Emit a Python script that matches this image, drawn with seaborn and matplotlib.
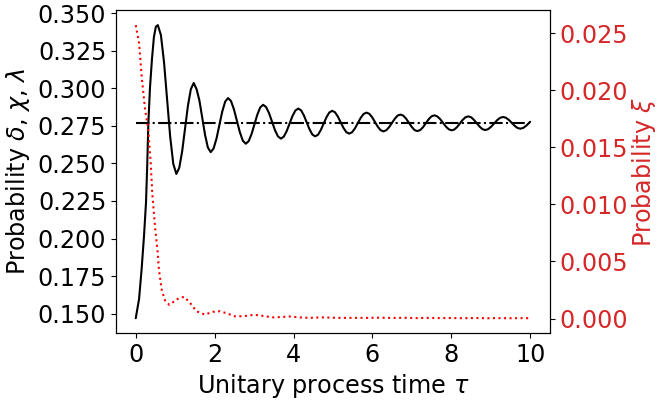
import matplotlib
matplotlib.use("Agg")
import matplotlib.pyplot as plt
from matplotlib.ticker import MultipleLocator, FormatStrFormatter
import seaborn as sns

# probability delta/chi/lambda (black, left axis)
tau_p = [0.00, 0.04, 0.085, 0.15, 0.21, 0.26, 0.29, 0.32, 0.36, 0.41, 0.46, 0.51, 0.56,
         0.638, 0.717, 0.795, 0.873, 0.952, 1.03,
         1.103, 1.177, 1.25, 1.323, 1.397, 1.47,
         1.542, 1.613, 1.685, 1.757, 1.828, 1.90,
         1.973, 2.047, 2.12, 2.193, 2.267, 2.34,
         2.415, 2.49, 2.565, 2.64, 2.715, 2.79,
         2.863, 2.937, 3.01, 3.083, 3.157, 3.23,
         3.305, 3.38, 3.455, 3.53, 3.605, 3.68,
         3.753, 3.827, 3.90, 3.973, 4.047, 4.12,
         4.192, 4.263, 4.335, 4.407, 4.478, 4.55,
         4.622, 4.693, 4.765, 4.837, 4.908, 4.98,
         5.052, 5.123, 5.195, 5.267, 5.338, 5.41,
         5.483, 5.557, 5.63, 5.703, 5.777, 5.85,
         5.922, 5.993, 6.065, 6.137, 6.208, 6.28,
         6.352, 6.423, 6.495, 6.567, 6.638, 6.71,
         6.782, 6.853, 6.925, 6.997, 7.068, 7.14,
         7.212, 7.283, 7.355, 7.427, 7.498, 7.57,
         7.643, 7.717, 7.79, 7.863, 7.937, 8.01,
         8.08, 8.15, 8.22, 8.29, 8.36, 8.43,
         8.502, 8.573, 8.645, 8.717, 8.788, 8.86,
         8.935, 9.01, 9.085, 9.16, 9.235, 9.31,
         9.383, 9.457, 9.53, 9.603, 9.677, 9.75,
         9.823, 9.897, 9.97, 10.0]
p_delta = [0.147, 0.153, 0.160, 0.180, 0.202, 0.224, 0.248, 0.277, 0.300, 0.319, 0.334, 0.341, 0.342,
           0.3354, 0.3173, 0.2925, 0.2678, 0.2496, 0.243,
           0.2471, 0.2581, 0.2733, 0.2884, 0.2994, 0.3035,
           0.2994, 0.2920, 0.2805, 0.2690, 0.2606, 0.2575,
           0.2599, 0.2665, 0.2755, 0.2845, 0.2911, 0.2935,
           0.2915, 0.2859, 0.2783, 0.2707, 0.2651, 0.2631,
           0.2648, 0.2696, 0.2761, 0.2825, 0.2873, 0.2890,
           0.2875, 0.2834, 0.2778, 0.2721, 0.2680, 0.2665,
           0.2678, 0.2715, 0.2765, 0.2815, 0.2852, 0.2865,
           0.2853, 0.2819, 0.2773, 0.2726, 0.2692, 0.2680,
           0.2691, 0.2723, 0.2765, 0.2808, 0.2839, 0.2850,
           0.2840, 0.2812, 0.2774, 0.2736, 0.2708, 0.2698,
           0.2707, 0.2733, 0.2768, 0.2803, 0.2829, 0.2838,
           0.2830, 0.2807, 0.2776, 0.2744, 0.2721, 0.2713,
           0.2721, 0.2741, 0.2769, 0.2797, 0.2818, 0.2825,
           0.2818, 0.2798, 0.2770, 0.2743, 0.2722, 0.2715,
           0.2722, 0.2741, 0.2768, 0.2794, 0.2813, 0.2820,
           0.2813, 0.2795, 0.2770, 0.2745, 0.2727, 0.2720,
           0.2726, 0.2743, 0.2767, 0.2790, 0.2807, 0.2813,
           0.2807, 0.2790, 0.2768, 0.2745, 0.2728, 0.2722,
           0.2728, 0.2744, 0.2766, 0.2787, 0.2803, 0.2809,
           0.2804, 0.2790, 0.2770, 0.2751, 0.2736, 0.2731,
           0.2736, 0.2750, 0.2769, 0.2777]

# stationary level (dash-dot)
tau_eq = [0.0, 10.0]
p_eq = [0.277, 0.277]

# probability xi (red dotted, right axis)
tau_xi = [0.00, 0.085, 0.15, 0.24, 0.31, 0.38, 0.42, 0.49, 0.55, 0.59, 0.66,
          0.74, 0.85, 0.97, 1.10, 1.23, 1.37, 1.54, 1.75, 1.96, 2.13, 2.30,
          2.51, 2.72, 2.98, 3.10, 3.32, 3.50, 3.75, 3.91, 4.17, 4.42, 4.67,
          4.80, 5.10, 5.50, 5.90, 6.20, 6.50, 6.80, 7.10, 7.40, 7.70, 8.00,
          8.30, 8.60, 8.90, 9.20, 9.50, 9.80, 10.0]
p_xi = [0.0257, 0.0241, 0.0212, 0.0182, 0.0168, 0.0136, 0.0109, 0.0080,
        0.0060, 0.0042, 0.0025, 0.0016, 0.0012, 0.0015, 0.0018, 0.0019,
        0.0014, 0.00064, 0.00035, 0.00059, 0.00064, 0.00047, 0.0002, 0.0002,
        0.00032, 0.0003, 0.00018, 0.0001, 0.00015, 0.00018, 0.0001, 0.00006,
        0.0001, 0.0001, 0.00006, 0.00006, 0.00006, 0.00008, 0.00005, 0.00007,
        0.00004, 0.00006, 0.00004, 0.00005, 0.00003, 0.00005, 0.00003,
        0.00004, 0.00003, 0.00004, 0.00003]

sns.set_style("ticks", {"axes.edgecolor": "black", "text.color": "black",
                        "xtick.color": "black", "ytick.color": "black",
                        "axes.labelcolor": "black"})
plt.rcParams["font.family"] = ["DejaVu Sans"]
plt.rcParams["font.size"] = 17.2

fig, ax = plt.subplots(figsize=(6.57, 4.03), dpi=100)
fig.subplots_adjust(left=0.1766, right=0.837, top=0.974, bottom=0.174)

sns.lineplot(x=tau_p, y=p_delta, color="black", linewidth=1.5, sort=False, ax=ax)
sns.lineplot(x=tau_eq, y=p_eq, color="black", linewidth=1.5, linestyle="-.", ax=ax)
ax.set_xlabel(r"Unitary process time $\tau$")
ax.set_ylabel(r"Probability $\delta$, $\chi$, $\lambda$")
ax.set_xticks([0, 2, 4, 6, 8, 10])
ax.yaxis.set_major_locator(MultipleLocator(0.025))
ax.yaxis.set_major_formatter(FormatStrFormatter("%.3f"))

ax2 = ax.twinx()
sns.lineplot(x=tau_xi, y=p_xi, color="red", linewidth=1.5, linestyle=":", sort=False, ax=ax2)
ax2.set_ylabel(r"Probability $\xi$", color="tab:red", labelpad=1)
ax2.tick_params(axis="y", labelcolor="tab:red")

fig.savefig("out.png", dpi=100)
